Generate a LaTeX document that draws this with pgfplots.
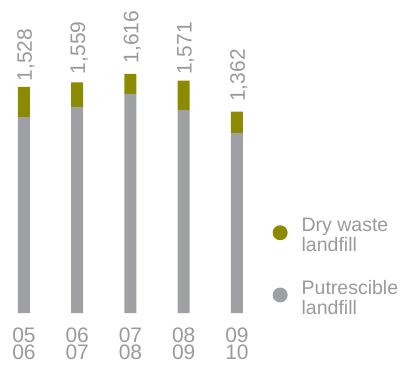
\documentclass[border=0pt]{standalone}
\usepackage{pgfplots}
\pgfplotsset{compat=1.18}
\usepackage{fontspec}
\setmainfont{Liberation Sans}
\definecolor{olivebar}{HTML}{8C8A00}
\definecolor{greybar}{HTML}{9FA0A4}
\definecolor{txtgrey}{HTML}{9A9A9A}
\pgfplotsset{
  circlegend/.style={legend image code/.code={\fill[##1,/tikz/.cd] (8bp,0.3em) circle (7.5bp);}}
}
\begin{document}
\begin{tikzpicture}
\begin{axis}[
  at={(0,0)}, anchor=south west,
  scale only axis, width=401bp, height=313bp,
  xmin=-0.4507, xmax=7.0799,
  ymin=0, ymax=2116,
  ybar stacked, bar width=12bp,
  axis line style={draw=none}, major tick length=0pt,
  ytick=\empty,
  xtick={0,1,2,3,4},
  xticklabels={{05\\06},{06\\07},{07\\08},{08\\09},{09\\10}},
  xticklabel style={align=center, text=txtgrey, font=\fontsize{21bp}{17bp}\selectfont, yshift=-11bp},
  clip=false,
  legend style={draw=none, fill=none, at={(rel axis cs:0.672,0.316)}, anchor=north west,
    font=\fontsize{19.5bp}{20bp}\selectfont, text=txtgrey,
    nodes={align=left}, cells={anchor=west}, row sep=23bp, column sep=12bp},
  reverse legend,
]
\addplot[fill=greybar, draw=none, circlegend] coordinates {(0,1325) (1,1393) (2,1481) (3,1373) (4,1217)};
\addlegendentry{Putrescible\\landfill}
\addplot[fill=olivebar, draw=none, circlegend,
  point meta=explicit symbolic,
  nodes near coords,
  nodes near coords style={rotate=90, anchor=west, text=txtgrey, font=\fontsize{21bp}{21bp}\selectfont, xshift=17bp, yshift=-2bp},
] table[meta=lab] {
x y lab
0 203 1,528
1 166 1,559
2 135 1,616
3 198 1,571
4 145 1,362
};
\addlegendentry{Dry waste\\landfill}
\end{axis}
\pgfresetboundingbox
\path (0,-54bp) rectangle (401bp,313bp);
\end{tikzpicture}
\end{document}
